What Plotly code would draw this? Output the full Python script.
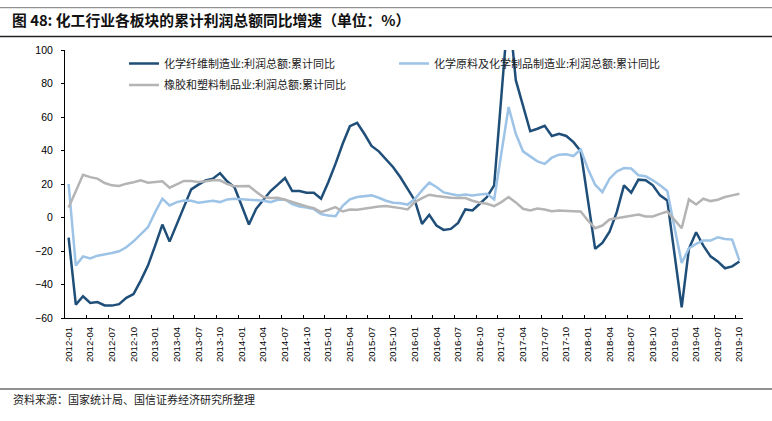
import plotly.graph_objects as go

# ---- data ----
years = list(range(2012, 2020))
months = [f"{y}-{m:02d}" for y in years for m in range(1, 13)][:94]   # 2012-01 .. 2019-10
tick_labels = months[::3]

name_fiber = "化学纤维制造业:利润总额:累计同比"
name_chem = "化学原料及化学制品制造业:利润总额:累计同比"
name_rubber = "橡胶和塑料制品业:利润总额:累计同比"

fiber = [-12, -52, -47, -51, -50.5, -52.5, -52.6, -51.7, -48, -45.7, -37.7, -28.7,
         -16.8, -4.2, -14.4, -3.8, 6.2, 16.8, 19.6, 22.2, 23.2, 26.5, 21.5, 18,
         7, -4.2, 5.2, 10.8, 15.8, 19.6, 23.6, 15.8, 15.8, 14.8, 14.8, 11.2,
         21, 32, 44, 54.5, 56.5, 50, 42.7, 39.5, 35, 30, 24, 17,
         10.2, -3.8, 1.6, -4.8, -7.4, -6.8, -3.2, 4.8, 4.2, 8.2, 12.2, 19.2,
         72, 126, 82, 67, 51.5, 53, 54.7, 48.7, 50, 48.7, 45, 39.5,
         10, -18.7, -15.2, -8.4, 3.2, 19.2, 14.8, 22.6, 22.2, 19.2, 13.2, 10.2,
         -21.7, -53.7, -18.7, -8.8, -16.8, -23.2, -26.2, -30.3, -29.2, -26.3]

chem = [20, -28.7, -23.2, -24.4, -22.8, -22.2, -21.2, -20.2, -17.8, -14.2, -10.2, -5.8,
        3.2, 11.2, 7.2, 9.2, 10.2, 10, 8.8, 9.6, 10, 9.2, 10.8, 11.2,
        11, 10.8, 10.3, 10, 9.2, 10.6, 10.8, 8, 6.5, 6, 5, 2,
        1.2, 0.8, 7, 10.8, 12.2, 12.8, 13.2, 11.8, 10, 8.8, 8.5, 7.7,
        11, 16.2, 20.8, 18.2, 15, 14, 13.2, 13.8, 13.2, 13.8, 14.2, 10.8,
        38, 66, 50, 39.5, 36.5, 33.5, 32, 35.7, 37.5, 37.7, 36.7, 40.7,
        29, 19.6, 15.2, 23.2, 27.5, 29.5, 29.2, 25.2, 24.6, 22.2, 19.2, 15.8,
        -6, -27.1, -18.4, -15.8, -13.8, -13.8, -11.8, -12.8, -13.2, -25.7]

rubber = [6, 16, 25.5, 24.1, 23.2, 20.6, 19.2, 18.8, 20.2, 21.1, 22.2, 20.8,
          21.1, 21.6, 17.8, 19.8, 21.8, 21.8, 21.2, 21.6, 22.2, 22.2, 20, 18.6,
          18.5, 18.8, 15.4, 12.2, 11.6, 11.8, 10.6, 9.2, 7.6, 6.6, 5.6, 3.2,
          4.6, 6.2, 3.6, 4.8, 4.6, 5.4, 6.1, 6.6, 6.8, 6.3, 5.6, 4.8,
          9.2, 11.6, 13.6, 12.8, 12.2, 11.8, 11.6, 11.6, 10, 8.8, 8.2, 6.8,
          9.2, 12.2, 9, 5.2, 4.2, 5.4, 4.8, 3.8, 4.2, 4.2, 3.8, 3.6,
          -1.8, -6.4, -4.8, -1.2, -0.4, 0.2, 1.2, 1.8, 0.6, 0.6, 2.2, 3.6,
          -1.4, -6.4, 10.8, 7.8, 11.2, 9.8, 10.6, 12.2, 13.2, 14.2]

y_ticks = [-60, -40, -20, 0, 20, 40, 60, 80, 100]

title_text = "图 48: 化工行业各板块的累计利润总额同比增速（单位：%）"
source_text = "资料来源：国家统计局、国信证券经济研究所整理"

# ---- figure ----
W, H = 772, 421
ML, MR, MT, MB = 65, 29, 50, 103
PW, PH = W - ML - MR, H - MT - MB

def px_x(p):  # pixel -> paper x
    return (p - ML) / PW

def px_y(p):  # pixel -> paper y
    return (H - MB - p) / PH

C_DARK = "#1F4E79"
C_LIGHT = "#9DC3E6"
C_GRAY = "#B4B4B4"
CJK = "Noto Sans CJK SC"
LAT = "Liberation Sans, Arial, Noto Sans CJK SC"

fig = go.Figure()
fig.add_trace(go.Scatter(x=months, y=fiber, name=name_fiber, mode="lines",
                         line=dict(color=C_DARK, width=2.5), legend="legend"))
fig.add_trace(go.Scatter(x=months, y=chem, name=name_chem, mode="lines",
                         line=dict(color=C_LIGHT, width=2.5), legend="legend"))
fig.add_trace(go.Scatter(x=months, y=rubber, name=name_rubber, mode="lines",
                         line=dict(color=C_GRAY, width=2.5), legend="legend2"))

line_x0, line_x1 = px_x(0), px_x(W)
shapes = [
    dict(type="line", xref="paper", yref="paper", x0=line_x0, x1=line_x1,
         y0=px_y(7.7), y1=px_y(7.7), line=dict(color="#777777", width=1)),
    dict(type="line", xref="paper", yref="paper", x0=line_x0, x1=line_x1,
         y0=px_y(36.5), y1=px_y(36.5), line=dict(color="#222222", width=1.3)),
    dict(type="line", xref="paper", yref="paper", x0=line_x0, x1=line_x1,
         y0=px_y(389), y1=px_y(389), line=dict(color="#222222", width=1)),
]

fig.update_layout(
    width=W, height=H,
    margin=dict(l=ML, r=MR, t=MT, b=MB),
    paper_bgcolor="white", plot_bgcolor="white",
    showlegend=True,
    title=dict(text=title_text, xref="container", yref="container",
               x=12 / W, xanchor="left", y=1 - 20.5 / H, yanchor="middle",
               font=dict(family=CJK, size=14.8, color="#111111", weight="bold")),
    xaxis=dict(type="category", categoryorder="array", categoryarray=months,
               range=[-0.5, len(months) - 0.5],
               tickmode="array", tickvals=tick_labels, ticktext=tick_labels,
               tickson="boundaries", ticks="inside", ticklen=3, tickcolor="black",
               tickangle=-90, tickfont=dict(family=LAT, size=9.6, color="black"),
               showline=True, linecolor="black", linewidth=1,
               showgrid=False, zeroline=False, ticklabelstandoff=4),
    yaxis=dict(range=[-60, 100], tickvals=y_ticks,
               ticks="outside", ticklen=3, tickcolor="black",
               tickfont=dict(family=LAT, size=10.5, color="black"),
               showline=True, linecolor="black", linewidth=1,
               showgrid=False, zeroline=False, ticklabelstandoff=6),
    legend=dict(orientation="h", x=px_x(124), xanchor="left",
                y=px_y(63.5), yanchor="middle", entrywidth=225,
                bgcolor="rgba(0,0,0,0)", font=dict(family=CJK, size=11, color="#222222"),
                tracegroupgap=0),
    legend2=dict(orientation="h", x=px_x(124), xanchor="left",
                 y=px_y(85), yanchor="middle",
                 bgcolor="rgba(0,0,0,0)", font=dict(family=CJK, size=11, color="#222222")),
    shapes=shapes,
    annotations=[dict(text=source_text, xref="paper", yref="paper",
                      x=px_x(11), y=px_y(398.5), xanchor="left", yanchor="middle",
                      showarrow=False,
                      font=dict(family=CJK, size=11, color="#222222"))],
)

fig.write_html("out.html", config={"displayModeBar": False},
               post_script="document.body.style.margin='0';")
